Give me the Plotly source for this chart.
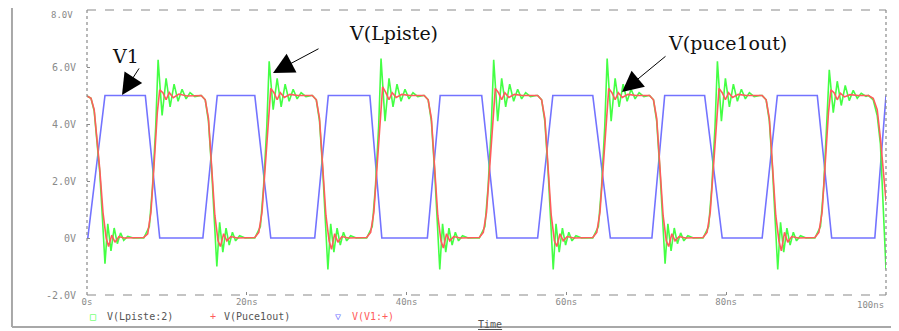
import plotly.graph_objects as go

# ---- data (time in ns, voltage in V) ----
v1_pts = [(0.0, 0.0), (0.1, 0.0), (2.25, 5.0), (7.3, 5.0), (9.1, 0.0), (14.5, 0.0), (16.3, 5.0),
          (21.0, 5.0), (23.0, 0.0), (28.5, 0.0), (30.2, 5.0), (35.4, 5.0), (36.9, 0.0), (42.6, 0.0),
          (44.2, 5.0), (49.4, 5.0), (51.3, 0.0), (56.4, 0.0), (58.3, 5.0), (63.3, 5.0), (65.5, 0.0),
          (70.7, 0.0), (72.3, 5.0), (77.3, 5.0), (79.5, 0.0), (84.5, 0.0), (86.4, 5.0), (91.4, 5.0),
          (93.2, 0.0), (98.6, 0.0), (100.0, 5.0)]

lpiste_pts = [
    (0.0, 4.98), (0.5, 4.9), (0.9, 4.45), (1.2, 3.6), (1.6, 2.3), (1.95, 0.6), (2.25, -0.9), (2.6, 0.5),
    (3.0, -0.45), (3.4, 0.35), (3.8, -0.2), (4.2, 0.18), (4.6, -0.08), (5.1, 0.06), (5.8, 0.0),
    (7.1, 0.0), (7.8, 0.4), (8.2, 1.8), (8.6, 3.9), (8.9, 6.25), (9.4, 4.3), (9.9, 5.6), (10.4, 4.6),
    (10.9, 5.4), (11.4, 4.8), (11.9, 5.22), (12.4, 4.88), (12.9, 5.1), (13.5, 4.96), (14.2, 5.0),
    (14.3, 5.0), (14.8, 4.85), (15.2, 4.1), (15.6, 2.4), (15.95, 0.6), (16.25, -1.0), (16.6, 0.55),
    (17.0, -0.5), (17.4, 0.35), (17.8, -0.25), (18.2, 0.2), (18.6, -0.1), (19.1, 0.08), (19.8, 0.0),
    (21.0, 0.0), (21.7, 0.4), (22.1, 1.8), (22.5, 3.9), (22.8, 6.2), (23.3, 4.5), (23.8, 5.6), (24.3, 4.6),
    (24.8, 5.4), (25.3, 4.8), (25.8, 5.22), (26.3, 4.88), (26.8, 5.1), (27.4, 4.96), (28.1, 5.0),
    (28.2, 5.0), (28.7, 4.85), (29.1, 4.1), (29.5, 2.4), (29.85, 0.6), (30.15, -1.1), (30.5, 0.5),
    (30.9, -0.5), (31.3, 0.35), (31.7, -0.25), (32.1, 0.2), (32.5, -0.1), (33.0, 0.08), (33.7, 0.0),
    (35.0, 0.0), (35.7, 0.4), (36.1, 1.8), (36.5, 3.9), (36.8, 6.3), (37.3, 4.1), (37.8, 5.6), (38.3, 4.6),
    (38.8, 5.4), (39.3, 4.8), (39.8, 5.22), (40.3, 4.88), (40.8, 5.1), (41.4, 4.96), (42.1, 5.0),
    (42.2, 5.0), (42.7, 4.85), (43.1, 4.1), (43.5, 2.4), (43.85, 0.6), (44.15, -1.1), (44.5, 0.5),
    (44.9, -0.5), (45.3, 0.35), (45.7, -0.25), (46.1, 0.2), (46.5, -0.1), (47.0, 0.08), (47.7, 0.0),
    (49.1, 0.0), (49.8, 0.4), (50.2, 1.8), (50.6, 3.9), (50.9, 6.25), (51.4, 4.1), (51.9, 5.6), (52.4, 4.6),
    (52.9, 5.4), (53.4, 4.8), (53.9, 5.22), (54.4, 4.88), (54.9, 5.1), (55.5, 4.96), (56.2, 5.0),
    (56.4, 5.0), (56.9, 4.85), (57.3, 4.1), (57.7, 2.4), (58.05, 0.6), (58.35, -1.1), (58.7, 0.5),
    (59.1, -0.5), (59.5, 0.35), (59.9, -0.25), (60.3, 0.2), (60.7, -0.1), (61.2, 0.08), (61.9, 0.0),
    (63.3, 0.0), (64.0, 0.4), (64.4, 1.8), (64.8, 3.9), (65.1, 6.3), (65.6, 4.1), (66.1, 5.6), (66.6, 4.6),
    (67.1, 5.4), (67.6, 4.8), (68.1, 5.22), (68.6, 4.88), (69.1, 5.1), (69.7, 4.96), (70.3, 5.0),
    (70.4, 5.0), (70.9, 4.85), (71.3, 4.1), (71.7, 2.4), (72.05, 0.6), (72.35, -0.9), (72.7, 0.5),
    (73.1, -0.45), (73.5, 0.35), (73.9, -0.2), (74.3, 0.18), (74.7, -0.1), (75.2, 0.08), (75.9, 0.0),
    (77.1, 0.0), (77.8, 0.4), (78.2, 1.8), (78.6, 3.9), (78.9, 6.2), (79.4, 4.1), (79.9, 5.6), (80.4, 4.6),
    (80.9, 5.4), (81.4, 4.8), (81.9, 5.22), (82.4, 4.88), (82.9, 5.1), (83.5, 4.96), (84.2, 5.0),
    (84.5, 5.0), (85.0, 4.85), (85.4, 4.1), (85.8, 2.4), (86.15, 0.6), (86.45, -1.1), (86.8, 0.55),
    (87.2, -0.5), (87.6, 0.35), (88.0, -0.25), (88.4, 0.2), (88.8, -0.1), (89.3, 0.08), (90.0, 0.0),
    (91.1, 0.0), (91.8, 0.4), (92.2, 1.8), (92.6, 3.9), (92.9, 5.9), (93.4, 4.4), (93.9, 5.5), (94.4, 4.65),
    (94.9, 5.35), (95.4, 4.82), (95.9, 5.18), (96.4, 4.9), (96.9, 5.08), (97.5, 4.97), (97.8, 5.0),
    (98.4, 4.85), (98.9, 4.3), (99.3, 3.3), (99.6, 1.5), (99.85, -0.3), (100.0, -1.1)]

puce_pts = [
    (0.0, 4.98), (0.5, 4.9), (0.9, 4.5), (1.3, 3.4), (1.6, 2.4), (2.0, 0.9), (2.4, 0.0), (2.7, -0.3),
    (3.1, 0.1), (3.5, -0.15), (4.0, 0.05), (4.6, 0.0),
    (7.1, 0.02), (7.6, 0.15), (8.0, 0.9), (8.4, 2.6), (8.8, 4.4), (9.1, 5.2), (9.5, 5.1), (9.9, 4.85),
    (10.3, 5.1), (10.8, 4.92), (11.5, 5.05), (12.5, 4.98),
    (14.3, 5.0), (14.8, 4.85), (15.2, 4.2), (15.6, 2.5), (16.0, 0.8), (16.4, -0.1), (16.7, -0.3),
    (17.1, 0.15), (17.5, -0.1), (18.0, 0.05), (18.8, 0.0),
    (21.0, 0.02), (21.5, 0.2), (21.9, 0.9), (22.3, 2.5), (22.7, 4.4), (23.0, 5.25), (23.4, 5.1),
    (23.8, 4.85), (24.2, 5.1), (24.7, 4.93), (25.4, 5.04), (26.4, 5.0),
    (28.2, 5.0), (28.7, 4.85), (29.1, 4.2), (29.5, 2.5), (29.9, 0.8), (30.3, -0.1), (30.6, -0.4),
    (31.0, 0.15), (31.4, -0.15), (31.9, 0.05), (32.7, 0.0),
    (35.0, 0.02), (35.5, 0.2), (35.9, 0.9), (36.3, 2.5), (36.7, 4.4), (37.0, 5.3), (37.4, 5.1),
    (37.8, 4.85), (38.2, 5.1), (38.7, 4.93), (39.4, 5.04), (40.4, 5.0),
    (42.2, 5.0), (42.7, 4.85), (43.1, 4.2), (43.5, 2.5), (43.9, 0.8), (44.3, -0.1), (44.6, -0.35),
    (45.0, 0.15), (45.4, -0.1), (45.9, 0.05), (46.7, 0.0),
    (49.1, 0.02), (49.6, 0.2), (50.0, 0.9), (50.4, 2.5), (50.8, 4.4), (51.1, 5.25), (51.5, 5.1),
    (51.9, 4.85), (52.3, 5.1), (52.8, 4.93), (53.5, 5.04), (54.5, 5.0),
    (56.4, 5.0), (56.9, 4.85), (57.3, 4.2), (57.7, 2.5), (58.1, 0.8), (58.5, -0.1), (58.8, -0.3),
    (59.2, 0.15), (59.6, -0.1), (60.1, 0.05), (60.9, 0.0),
    (63.3, 0.02), (63.8, 0.2), (64.2, 0.9), (64.6, 2.5), (65.0, 4.4), (65.3, 5.25), (65.7, 5.1),
    (66.1, 4.85), (66.5, 5.1), (67.0, 4.93), (67.7, 5.04), (68.7, 5.0),
    (70.4, 5.0), (70.9, 4.85), (71.3, 4.2), (71.7, 2.5), (72.1, 0.8), (72.5, -0.1), (72.8, -0.3),
    (73.2, 0.15), (73.6, -0.1), (74.1, 0.05), (74.9, 0.0),
    (77.1, 0.02), (77.6, 0.2), (78.0, 0.9), (78.4, 2.5), (78.8, 4.4), (79.1, 5.25), (79.5, 5.1),
    (79.9, 4.85), (80.3, 5.1), (80.8, 4.93), (81.5, 5.04), (82.5, 5.0),
    (84.5, 5.0), (85.0, 4.85), (85.4, 4.2), (85.8, 2.5), (86.2, 0.8), (86.6, -0.1), (86.9, -0.45),
    (87.3, 0.2), (87.7, -0.15), (88.2, 0.05), (89.0, 0.0),
    (91.1, 0.02), (91.6, 0.2), (92.0, 0.9), (92.4, 2.5), (92.8, 4.4), (93.1, 5.2), (93.5, 5.1),
    (93.9, 4.85), (94.3, 5.08), (94.8, 4.95), (95.5, 5.03), (96.5, 5.0),
    (97.8, 5.0), (98.4, 4.9), (98.9, 4.5), (99.3, 3.5), (99.7, 2.2), (100.0, 1.3)]

x_tickvals = [0, 20, 40, 60, 80]
x_ticktext = ["0s", "20ns", "40ns", "60ns", "80ns"]
x_last_label = "100ns"
y_tickvals = [-2, 0, 2, 4, 6, 8]
y_ticktext = ["-2.0V", "0V", "2.0V", "4.0V", "6.0V", ""]
y_top_label = "8.0V"

BLUE = "#7373ff"
RED = "#ff5c5c"
GREEN = "#44ff44"
GRAY = "#8a8a8a"
mono = "DejaVu Sans Mono"


def split(pts):
    return [p[0] for p in pts], [p[1] for p in pts]


fig = go.Figure()
for pts, col, name in [(v1_pts, BLUE, "V(V1:+)"), (lpiste_pts, GREEN, "V(Lpiste:2)"),
                       (puce_pts, RED, "V(Puce1out)")]:
    xs, ys = split(pts)
    fig.add_trace(go.Scatter(x=xs, y=ys, mode="lines", name=name,
                             line=dict(color=col, width=1.6), hoverinfo="skip"))

# plot frame (dashed top/bottom, dotted left/right)
frame = [
    dict(x0=0, x1=1, y0=1, y1=1, dash="dash"),
    dict(x0=0, x1=1, y0=0, y1=0, dash="dash"),
    dict(x0=0, x1=0, y0=0, y1=1, dash="dot"),
    dict(x0=1, x1=1, y0=0, y1=1, dash="dot"),
]
for f in frame:
    fig.add_shape(type="line", xref="paper", yref="paper", x0=f["x0"], x1=f["x1"],
                  y0=f["y0"], y1=f["y1"], line=dict(color=GRAY, width=1.2, dash=f["dash"]))

# outer window border
for (x0, y0, x1, y1) in [(-0.0939, -0.1123, -0.0939, 1.06), (1.0088, -0.1123, 1.0088, 1.06),
                         (-0.0939, -0.1123, 1.0088, -0.1123)]:
    fig.add_shape(type="line", xref="paper", yref="paper", x0=x0, y0=y0, x1=x1, y1=y1,
                  line=dict(color="#a8a8a8", width=2))

serif = dict(family="DejaVu Serif", size=19, color="#111111")
for txt, x, y in [("V1", 4.76, 6.39), ("V(Lpiste)", 38.4, 7.19), ("V(puce1out)", 80.2, 6.84)]:
    fig.add_annotation(x=x, y=y, xref="x", yref="y", text=txt, showarrow=False, font=serif)
for x, y, ax, ay in [(4.38, 5.02, 18, -28), (23.28, 5.79, 47, -25), (66.96, 5.12, 45, -37)]:
    fig.add_annotation(x=x, y=y, xref="x", yref="y", ax=ax, ay=ay, text="", showarrow=True,
                       arrowhead=2, arrowsize=4.2, arrowwidth=1, arrowcolor="#000000", standoff=0)

# top y label, kept just inside the page edge
fig.add_annotation(x=(75 - 87) / 799, y=1.0 + 2.0 / 285, xref="paper", yref="paper", text=y_top_label,
                   showarrow=False, xanchor="right", yanchor="top",
                   font=dict(family=mono, size=9, color=GRAY))
# last x tick label (right-aligned so it stays inside the frame)
fig.add_annotation(x=1.0, y=(295 - 305) / 285, xref="paper", yref="paper", text=x_last_label,
                   showarrow=False, xanchor="right", yanchor="middle",
                   font=dict(family=mono, size=9, color=GRAY))

# legend row
legend_items = [
    ("□", 93, GREEN, "center"), ("V(Lpiste:2)", 105, "#555555", "left"),
    ("+", 213, RED, "center"), ("V(Puce1out)", 222, "#555555", "left"),
    ("▽", 338, BLUE, "center"), ("V(V1:+)", 350, RED, "left"),
]
for txt, px, col, anchor in legend_items:
    fig.add_annotation(x=(px - 87) / 799, y=(295 - 316) / 285, xref="paper", yref="paper",
                       text=txt, showarrow=False, xanchor=anchor, yanchor="middle",
                       font=dict(family=mono, size=10, color=col))
fig.add_annotation(x=(490 - 87) / 799, y=(295 - 324) / 285, xref="paper", yref="paper",
                   text="<u>Time</u>", showarrow=False, xanchor="center", yanchor="middle",
                   font=dict(family=mono, size=10, color="#555555"))

# page body adds an 8px offset, so the figure is 8px smaller in each direction
fig.update_layout(
    width=891, height=323,
    margin=dict(l=79, r=13, t=2, b=36),
    paper_bgcolor="white", plot_bgcolor="white",
    showlegend=False,
    xaxis=dict(range=[0, 100], showgrid=False, zeroline=False, showline=False,
               tickvals=x_tickvals, ticktext=x_ticktext, ticks="inside", ticklen=3,
               tickcolor=GRAY, tickfont=dict(family=mono, size=9, color=GRAY)),
    yaxis=dict(range=[-2, 8], showgrid=False, zeroline=False, showline=False,
               tickvals=y_tickvals, ticktext=y_ticktext, ticks="inside", ticklen=3,
               tickcolor=GRAY, ticklabelstandoff=10,
               tickfont=dict(family=mono, size=10, color=GRAY)),
)

fig.write_html("out.html", config={"displayModeBar": False})
